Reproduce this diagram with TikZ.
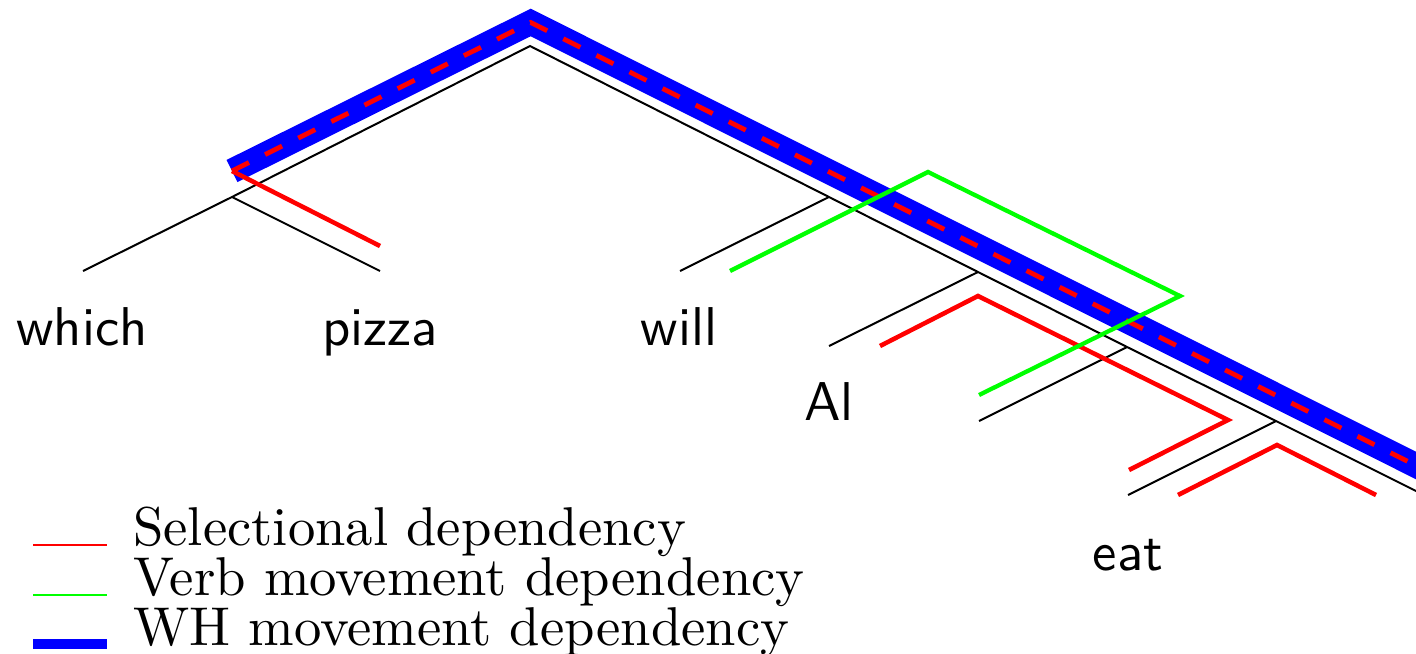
\documentclass[tikz,border=0pt]{standalone}
\usepackage{fontspec}
\newfontfamily\legfont{lmroman10-regular.otf}
\newfontfamily\wordfont{lmsans10-regular.otf}
\begin{document}
\begin{tikzpicture}[x=0.75pt,y=-0.75pt,
  tree/.style={black, line width=1.5pt},
  sel/.style={red, line width=3.4pt},
  verb/.style={green, line width=3.2pt},
  wh/.style={blue, line width=18.5pt},
  whsel/.style={red, line width=3.6pt, dash pattern=on 14.25pt off 13.5pt},
  word/.style={font=\wordfont\fontsize{41}{41}\selectfont, anchor=base, inner sep=0pt},
  legtext/.style={font=\legfont\fontsize{41}{41}\selectfont, anchor=base west, inner sep=0pt},
  legsel/.style={red, line width=2pt},
  legverb/.style={green, line width=2pt},
  legwh/.style={blue, line width=7.5pt}]
\useasboundingbox (0,0) rectangle (1416,653);
\clip (0,0) rectangle (1416,653);
% tree skeleton
\coordinate (root) at (530,46);
\coordinate (L) at (232,197);
\coordinate (whichleaf) at (83,271);
\coordinate (pizzaleaf) at (380,271);
\coordinate (N1) at (829,197);
\coordinate (willleaf) at (680,271);
\coordinate (N2) at (978,272);
\coordinate (Alleaf) at (829,346);
\coordinate (N3) at (1127,347);
\coordinate (tleaf) at (979,421);
\coordinate (N4) at (1276,421);
\coordinate (eatleaf) at (1128,495);
\coordinate (spineend) at (1500,533);
\draw[tree] (whichleaf) -- (L) -- (pizzaleaf);
\draw[tree] (L) -- (root) -- (N1) -- (N2) -- (N3) -- (N4) -- (spineend);
\draw[tree] (N1) -- (willleaf);
\draw[tree] (N2) -- (Alleaf);
\draw[tree] (N3) -- (tleaf);
\draw[tree] (N4) -- (eatleaf);
% words
\node[word] (which) at (82,345) {which};
\node[word] (pizza) at (380,345) {pizza};
\node[word] (will) at (679,345) {will};
\node[word] (Al) at (829,420) {Al};
\node[word] (eat) at (1128,570) {eat};
% WH movement
\coordinate (whstart) at (232,171);
\coordinate (whtop) at (530.7,22.5);
\coordinate (whend) at (1500,507.5);
\draw[wh] (whstart) -- (whtop) -- (whend);
\draw[whsel] (whstart) -- (whtop) -- (whend);
% selectional dependencies
\coordinate (s1b) at (380,246);
\draw[sel] (whstart) -- (s1b);
\coordinate (s2a) at (880,346);
\coordinate (s2b) at (978,296);
\coordinate (s2c) at (1228,420);
\coordinate (s2d) at (1129,470);
\draw[sel] (s2a) -- (s2b) -- (s2c) -- (s2d);
\coordinate (s3a) at (1178,495);
\coordinate (s3b) at (1277,445);
\coordinate (s3c) at (1376,495);
\draw[sel] (s3a) -- (s3b) -- (s3c);
% verb movement
\coordinate (v1) at (730,271);
\coordinate (v2) at (928,172);
\coordinate (v3) at (1180,296);
\coordinate (v4) at (979,395);
\draw[verb] (v1) -- (v2) -- (v3) -- (v4);
% legend
\coordinate (la1) at (33,545); \coordinate (lb1) at (107,545);
\coordinate (la2) at (33,595); \coordinate (lb2) at (107,595);
\coordinate (la3) at (33,644); \coordinate (lb3) at (107,644);
\draw[legsel] (la1) -- (lb1);
\draw[legverb] (la2) -- (lb2);
\draw[legwh] (la3) -- (lb3);
\node[legtext] (t1) at (133,545) {Selectional dependency};
\node[legtext] (t2) at (133,595) {Verb movement dependency};
\node[legtext] (t3) at (133,645) {WH movement dependency};
\end{tikzpicture}
\end{document}
